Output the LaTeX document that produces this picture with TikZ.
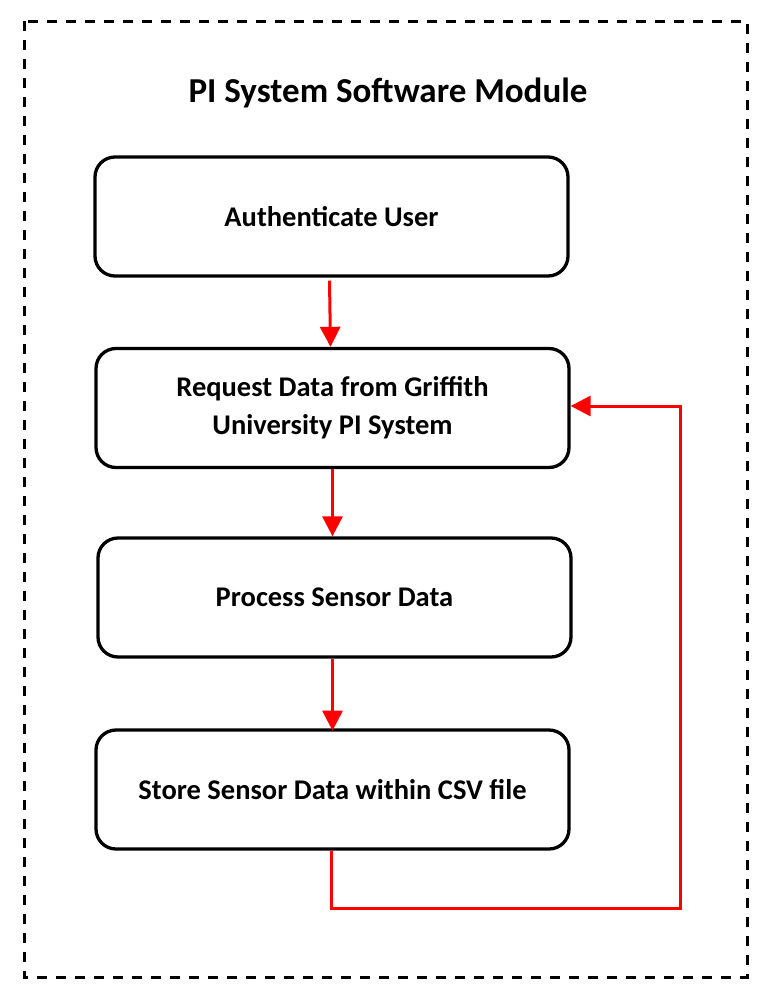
\documentclass[tikz,border=0pt]{standalone}
\usepackage{fontspec}
\setmainfont{Carlito}
\usetikzlibrary{arrows.meta,calc}
\begin{document}
\begin{tikzpicture}[x=1pt,y=-1pt,
  stepbox/.style={draw=black,line width=3.3pt,rounded corners=20pt,minimum width=473pt,minimum height=119pt,align=center,font=\bfseries\fontsize{28.5}{38}\selectfont,inner sep=0pt},
  flow/.style={draw=red,line width=3pt,-{Triangle[width=20pt,length=20pt]}},
  frame/.style={draw=black,line width=3pt,dash pattern=on 10pt off 9pt}]
\useasboundingbox (0,0) rectangle (776,1001);
\draw[frame] (24,21) rectangle (747,977);
\node[font=\bfseries\fontsize{35}{42}\selectfont] (title) at (388,93) {PI System Software Module};
\node[stepbox] (auth) at (331.5,216.5) {Authenticate User};
\node[stepbox] (req) at (332.5,408) {Request Data from Griffith\\University PI System};
\node[stepbox] (proc) at (334.5,597.5) {Process Sensor Data};
\node[stepbox] (store) at (332.5,789.5) {Store Sensor Data within CSV file};
\draw[flow] ([xshift=-2pt]auth.south) ++(0,3) -- ([xshift=-2pt]req.north);
\draw[flow] (req.south) -- (req.south |- proc.north);
\draw[flow] ([xshift=-2pt]proc.south) -- ++(0,72);
\coordinate (c1) at (680,907);
\draw[flow] ([xshift=-1pt]store.south) -- ++(0,58) -| (c1) |- ([yshift=2pt]req.east);
\end{tikzpicture}
\end{document}
